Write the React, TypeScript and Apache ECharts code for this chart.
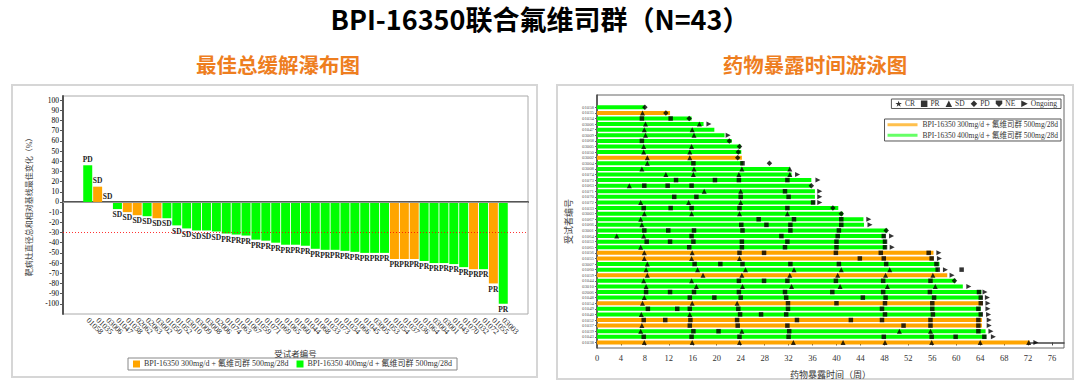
import React, { useEffect, useRef } from "react";
import * as echarts from "echarts";

// ---------- Waterfall data ----------
const wfIds = ['01058','01035','03006','01047','01038','02062','02063','03002','01050','01052',
  '03010','03009','03008','02006','01074','01063','01067','01059','01071','01069',
  '01065','01060','01044','01068','01033','01073','01034','01066','01045','03005',
  '01053','01054','01037','01036','01064','03004','03001','01043','01070','01032',
  '01072','01055','03003'];
const wfChange = [36, 15, 0, -7, -10, -13, -14, -16, -16, -23, -26, -28, -28, -29, -31, -32, -33, -37,
  -38, -40, -42, -42, -43, -46, -47, -47, -48, -49, -50, -50, -50, -56, -56, -56, -58, -60, -60, -61, -64,
  -66, -66, -80, -100];
const wfDose = [400, 300, 400, 400, 300, 300, 400, 300, 400, 400, 400, 400, 400, 400, 400, 400, 400, 400,
  400, 400, 400, 400, 400, 400, 400, 400, 400, 400, 400, 400, 400, 300, 300, 300, 400, 400, 400, 400, 400,
  300, 400, 300, 400];
const wfResponse = ['PD','SD','SD','SD','SD','SD','SD','SD','SD','SD','SD','SD','SD','SD',
  'PR','PR','PR','PR','PR','PR','PR','PR','PR','PR','PR','PR','PR','PR','PR','PR','PR','PR','PR','PR',
  'PR','PR','PR','PR','PR','PR','PR','PR','PR'];
const wfYTicks = [-100,-90,-80,-70,-60,-50,-40,-30,-20,-10,0,10,20,30,40,50,60,70,80,90,100];

// ---------- Swimmer data (rows top to bottom) ----------
const swIds = ['01058','01035','01034','03006','01047','03009','01068','03005','01050','03002',
  '03004','03008','01074','01073','01063','01071','01070','01072','01033','03003',
  '01067','01066','03001','01064','01053','01065','01056','01055','03007','01060',
  '01059','01044','03010','02006','01048','01054','01049','01040','01052','01037',
  '01039','01043','01038'];
const swEnd = [8, 12.2, 15.8, 17.8, 19.6, 21.3, 22.5, 24, 24.1, 24.2,
  24.4, 32.2, 32.5, 35.8, 35.8, 36.4, 36.4, 36.4, 40.3, 41.1,
  44.5, 44.6, 48.5, 48.1, 48.3, 48.3, 56.2, 56.2, 57.2, 57.0,
  58.5, 59.9, 61.1, 64.2, 64.3, 64.4, 64.1, 64.3, 64.3, 64.3,
  64.9, 65.0, 72.3];
const swDose = [400, 300, 400, 400, 400, 400, 400, 400, 400, 300,
  400, 400, 400, 400, 400, 400, 400, 400, 400, 400,
  400, 400, 400, 400, 400, 400, 300, 300, 400, 400,
  300, 400, 400, 400, 400, 300, 400, 400, 300, 300,
  400, 400, 300];
// [row, week]
const swOngoing = [[3,18.7],[5,21.9],[12,33.5],[13,36.9],[15,37.2],[16,37.2],[17,37.2],[20,45.4],[21,45.6],
  [23,49.2],[25,49.3],[26,57.1],[27,57.2],[29,58.2],[30,59.3],[32,62.1],[33,64.8],[34,65.2],[35,65.3],
  [36,65.3],[37,65.4],[38,65.5],[39,65.5],[40,65.8],[41,66.2],[42,73.3]];
const swPR = [[2,7.5],[2,12.3],[6,7.5],[10,16.1],[10,24.3],[13,13.2],[13,19.7],[13,23.7],[13,31.8],
  [14,7.9],[14,11.8],[14,15.8],[15,31.4],[16,12.9],[16,16.6],[16,24],[16,32],[17,36.1],
  [18,7.8],[18,12.3],[18,15.8],[18,23.8],[18,31.8],[20,27],[20,32.9],[20,40.8],
  [21,24.1],[21,28.3],[21,32.3],[21,40.8],[22,7.9],[22,11.9],[22,16.2],[22,24.3],[22,32.3],[22,40.4],
  [23,15.8],[23,30.8],[23,40.2],[23,47.9],[24,8.3],[24,12.2],[24,16.1],[24,24.2],[24,31.8],[24,40.0],[24,48.1],
  [25,15.4],[25,24.2],[25,31.4],[25,40.0],[25,48.1],[26,23.8],[26,27.9],[26,39.9],[26,47.4],[26,55.4],
  [27,43.9],[27,47.9],[27,55.9],[28,16.3],[28,20.6],[28,24.3],[28,32.3],[28,40.4],[28,48.3],[28,56.7],
  [29,56.9],[29,60.9],[31,23.7],[31,27.9],[31,31.8],[31,39.9],[31,47.8],[31,55.7],
  [33,8.2],[33,12.2],[33,16.2],[33,23.7],[33,31.4],[33,39.3],[33,47.8],[33,55.6],[33,63.8],
  [34,15.5],[34,19.6],[34,24],[34,31.6],[34,44.4],[34,48.2],[34,56.3],[34,64.1],
  [35,31.9],[35,40.0],[35,48.1],[35,56.0],[35,64.1],
  [36,8.5],[36,13.4],[36,15.5],[36,23.6],[36,31.9],[36,47.6],[36,56.0],[36,63.7],
  [37,23.9],[37,27.4],[37,31.6],[37,48.1],[37,56.1],[37,64.1],
  [38,7.8],[38,11.4],[38,15.6],[38,23.4],[38,33.4],[38,42.4],[38,47.6],[38,55.7],[38,63.7],
  [39,15.5],[39,23.5],[39,31.8],[39,51.2],[39,55.7],[39,63.7],[40,16.1],[40,20.3],[40,32.1],[40,63.7],
  [41,7.8],[41,15.8],[41,23.8],[41,32],[41,47.9],[41,55.9],[41,59.9],[41,64.7]];
const swSD = [[1,7.6],[3,8.1],[3,17.1],[4,7.9],[4,15.9],[5,8.1],[5,16.2],[7,7.8],[7,15.8],[8,7.8],[8,15.5],
  [9,8.4],[9,15.5],[10,8.4],[11,7.5],[11,16.2],[11,24.2],[11,32.2],[12,11.5],[12,16.1],[12,23.7],[12,32.2],
  [14,5.4],[15,17.9],[15,24],[17,7.3],[17,15.3],[17,24],[19,7.9],[19,15.8],[19,23.8],[19,31.8],
  [20,7.3],[21,7.5],[23,3.3],[23,7.8],[25,7.3],[26,7.9],[26,15.9],[27,7.9],[27,15.8],[27,23.8],[28,8.4],
  [29,8.2],[29,16.8],[29,24.8],[29,32.9],[29,40.8],[29,48.9],
  [30,8.4],[30,17.7],[30,24.2],[30,32.2],[30,40.2],[30,48.2],[30,56.1],[31,7.8],[31,15.8],
  [32,8.2],[32,16.6],[32,24.3],[32,32.5],[32,40.6],[32,48.5],[32,56.5],[34,7.9],
  [35,7.6],[35,15.9],[35,23.4],[37,7.4],[37,15.5],[39,7.5],[40,7.3],[40,24.2],[40,50.5],[40,55.7],
  [42,7.9],[42,15.9],[42,23.8],[42,32.8],[42,41.1],[42,48.1],[42,55.9],[42,64.0],[42,72.1]];
const swPD = [[0,8],[1,11.5],[2,15.4],[6,22.1],[7,23.8],[8,23.6],[9,23.5],[10,28.8],[14,35.8],
  [18,39.4],[19,40.8],[22,48.3],[31,59.7]];
const swXTicks = [0,4,8,12,16,20,24,28,32,36,40,44,48,52,56,60,64,68,72,76];

const DOSE300 = 'BPI-16350 300mg/d + 氟维司群 500mg/28d';
const DOSE400 = 'BPI-16350 400mg/d + 氟维司群 500mg/28d';
const ORANGE = '#FFA500';
const GREEN = '#00FF00';
const SERIF = "'Liberation Serif', 'Noto Sans CJK SC', serif";

const STAR = 'path://M5,0 L6.2,3.6 L10,3.6 L6.9,5.8 L8.1,9.5 L5,7.2 L1.9,9.5 L3.1,5.8 L0,3.6 L3.8,3.6 Z';
const SHIELD = 'path://M0,0 L10,0 L10,5 L5,10 L0,5 Z';
const ARROW = 'path://M0,0 L10,5 L0,10 Z';

export default function App() {
  const ref = useRef<HTMLDivElement>(null);
  useEffect(() => {
    document.body.style.margin = '0';
    const chart = echarts.init(ref.current!, null, { renderer: 'svg' });
    const pad = ['_a', '_b'];
    const padEnd = ['_c', '_d'];
    const wfCats = [...pad, ...wfIds, ...padEnd];
    const mkBar = (dose: number) => [null, null, ...wfChange.map((v, i) =>
      wfDose[i] === dose ? { value: v, label: { position: v >= 0 ? 'top' : 'bottom' } } : null), null, null];
    const lastRow = swIds.length - 1;
    const toXY = (arr: number[][]) => arr.map(([r, w]) => [w, lastRow - r]);
    const barData = (dose: number) => swEnd.map((e, r) => swDose[r] === dose ? [e, lastRow - r] : null).filter(Boolean);
    const renderBar = (color: string) => (params: any, api: any) => {
      const end = api.value(0);
      const y = api.value(1);
      const s = api.coord([0, y]);
      const e = api.coord([end, y]);
      return { type: 'rect', shape: { x: s[0], y: s[1] - 2, width: e[0] - s[0], height: 4 }, style: { fill: color } };
    };
    const yVals = swIds.map((_, i) => i);
    const barLabel = { show: true, fontSize: 7.5, fontWeight: 'bold', fontFamily: SERIF, color: '#222', distance: 2,
      formatter: (p: any) => wfResponse[p.dataIndex - 2] };

    const option: any = {
      animation: false,
      title: [
        { text: 'BPI-16350联合氟维司群（N=43）', left: 'center', top: 5, padding: 0,
          textStyle: { fontSize: 27, fontWeight: 'bold', color: '#000', fontFamily: 'Noto Sans CJK SC' } },
        { text: '最佳总缓解瀑布图', left: 278, textAlign: 'center', top: 54, padding: 0,
          textStyle: { fontSize: 20.5, fontWeight: 'bold', color: '#EE7E1F', fontFamily: 'Noto Sans CJK SC' } },
        { text: '药物暴露时间游泳图', left: 815, textAlign: 'center', top: 54, padding: 0,
          textStyle: { fontSize: 20.5, fontWeight: 'bold', color: '#EE7E1F', fontFamily: 'Noto Sans CJK SC' } },
      ],
      graphic: [
        { type: 'rect', shape: { x: 12, y: 85, width: 525, height: 292 }, style: { fill: 'none', stroke: '#d6d6d6', lineWidth: 2 }, silent: true },
        { type: 'rect', shape: { x: 557, y: 85, width: 516, height: 294 }, style: { fill: 'none', stroke: '#d6d6d6', lineWidth: 2 }, silent: true },
      ],
      legend: [
        { data: [DOSE300, DOSE400], left: 128, top: 358, orient: 'horizontal', icon: 'rect',
          itemWidth: 7, itemHeight: 7, itemGap: 8, padding: [2, 5], borderColor: '#888', borderWidth: 1,
          textStyle: { fontSize: 8, fontFamily: SERIF, color: '#333', padding: [0, 0, 0, -1] } },
        { data: ['CR', 'PR', 'SD', 'PD', 'NE', 'Ongoing'], right: 19, top: 99, orient: 'horizontal',
          itemWidth: 6.5, itemHeight: 6.5, itemGap: 6, padding: [1, 4], borderColor: '#555', borderWidth: 1,
          textStyle: { fontSize: 7.5, fontFamily: SERIF, color: '#333', padding: [0, 0, 0, -2] } },
        { data: [{ name: DOSE300, itemStyle: { color: '#FFC04D' } }, { name: DOSE400, itemStyle: { color: '#66FF66' } }],
          right: 19, top: 119, orient: 'vertical', icon: 'rect',
          itemWidth: 30, itemHeight: 3, itemGap: 3, padding: [2, 3], borderColor: '#555', borderWidth: 1,
          textStyle: { fontSize: 7.5, fontFamily: SERIF, color: '#333' } },
      ],
      grid: [
        { left: 63, top: 96, right: 552, bottom: 72, show: true, borderColor: '#aaa', borderWidth: 1 },
        { left: 597, top: 95, right: 16, bottom: 38, show: true, borderColor: '#666', borderWidth: 1 },
      ],
      xAxis: [
        { type: 'category', gridIndex: 0, data: wfCats, boundaryGap: true,
          axisLine: { lineStyle: { color: '#555', width: 2 } },
          axisTick: { alignWithLabel: true, interval: (i: number, v: string) => !v.startsWith('_'), length: 3, lineStyle: { color: '#555' } },
          axisLabel: { interval: 0, rotate: -45, fontSize: 8, fontFamily: SERIF, color: '#222', margin: 5,
            formatter: (v: string) => v.startsWith('_') ? '' : v },
          name: '受试者编号', nameLocation: 'middle', nameGap: 36,
          nameTextStyle: { fontSize: 8.5, fontFamily: SERIF, color: '#333' } },
        { type: 'value', gridIndex: 1, min: 0, max: 78,
          axisLine: { show: true, lineStyle: { color: '#444', width: 1.5 } },
          axisTick: { show: true, customValues: swXTicks, length: 3, lineStyle: { color: '#444' } },
          axisLabel: { customValues: swXTicks, fontSize: 8.5, fontFamily: SERIF, color: '#333', margin: 6 },
          splitLine: { show: false },
          name: '药物暴露时间（周）', nameLocation: 'middle', nameGap: 22,
          nameTextStyle: { fontSize: 9, fontFamily: SERIF, color: '#333' } },
      ],
      yAxis: [
        { type: 'value', gridIndex: 0, min: -110, max: 104,
          axisLine: { show: true, lineStyle: { color: '#555', width: 2 } },
          axisTick: { show: true, customValues: wfYTicks, length: 3, lineStyle: { color: '#555' } },
          axisLabel: { customValues: wfYTicks, fontSize: 7.5, fontFamily: SERIF, color: '#000', margin: 4 },
          splitLine: { show: false },
          name: '靶病灶直径总和相对基线最佳变化（%）', nameLocation: 'middle', nameGap: 30, nameRotate: 90,
          nameTextStyle: { fontSize: 8, fontFamily: SERIF, color: '#444' } },
        { type: 'value', gridIndex: 1, min: -1, max: 44.2,
          axisLine: { show: true, lineStyle: { color: '#444', width: 1.5 } },
          axisTick: { show: true, customValues: yVals, length: 2, lineStyle: { color: '#666' } },
          axisLabel: { customValues: yVals, fontSize: 4.8, fontFamily: SERIF, color: '#555', margin: 3,
            formatter: (v: number) => swIds[lastRow - Math.round(v)] ?? '' },
          splitLine: { show: false },
          name: '受试者编号', nameLocation: 'middle', nameGap: 24, nameRotate: 90,
          nameTextStyle: { fontSize: 9, fontFamily: SERIF, color: '#444' } },
      ],
      series: [
        { name: DOSE300, type: 'bar', xAxisIndex: 0, yAxisIndex: 0, stack: 'wf', barWidth: 9,
          itemStyle: { color: ORANGE }, data: mkBar(300), label: barLabel,
          markLine: { silent: true, symbol: ['none', 'none'], label: { show: false },
            lineStyle: { color: '#999999', type: 'solid', width: 1 },
            data: [{ yAxis: 0 }] } },
        { name: DOSE400, type: 'bar', xAxisIndex: 0, yAxisIndex: 0, stack: 'wf', barWidth: 9,
          itemStyle: { color: GREEN }, data: mkBar(400), label: barLabel,
          markLine: { silent: true, symbol: ['none', 'none'], label: { show: false },
            lineStyle: { color: '#FF0000', type: [1, 2], width: 1, opacity: 0.8 },
            data: [{ yAxis: -30 }] } },
        { name: DOSE300, type: 'custom', xAxisIndex: 1, yAxisIndex: 1, itemStyle: { color: ORANGE },
          renderItem: renderBar(ORANGE), encode: { x: 0, y: 1 }, data: barData(300), z: 1 },
        { name: DOSE400, type: 'custom', xAxisIndex: 1, yAxisIndex: 1, itemStyle: { color: GREEN },
          renderItem: renderBar(GREEN), encode: { x: 0, y: 1 }, data: barData(400), z: 1 },
        { name: 'CR', type: 'scatter', xAxisIndex: 1, yAxisIndex: 1, symbol: STAR, symbolSize: 6,
          itemStyle: { color: '#000' }, data: [], z: 3 },
        { name: 'PR', type: 'scatter', xAxisIndex: 1, yAxisIndex: 1, symbol: 'rect', symbolSize: 4.5,
          itemStyle: { color: '#000' }, data: toXY(swPR), z: 3 },
        { name: 'SD', type: 'scatter', xAxisIndex: 1, yAxisIndex: 1, symbol: 'triangle', symbolSize: 5,
          itemStyle: { color: '#000' }, data: toXY(swSD), z: 3 },
        { name: 'PD', type: 'scatter', xAxisIndex: 1, yAxisIndex: 1, symbol: 'diamond', symbolSize: 5.5,
          itemStyle: { color: '#000' }, data: toXY(swPD), z: 3 },
        { name: 'NE', type: 'scatter', xAxisIndex: 1, yAxisIndex: 1, symbol: SHIELD, symbolSize: 6,
          itemStyle: { color: '#000' }, data: [], z: 3 },
        { name: 'Ongoing', type: 'scatter', xAxisIndex: 1, yAxisIndex: 1, symbol: ARROW, symbolSize: 5,
          itemStyle: { color: '#000' }, data: toXY(swOngoing), z: 3 },
      ],
    };
    chart.setOption(option);
    return () => chart.dispose();
  }, []);
  return <div ref={ref} style={{ position: 'absolute', left: 0, top: 0, width: 1080, height: 386 }} />;
}
